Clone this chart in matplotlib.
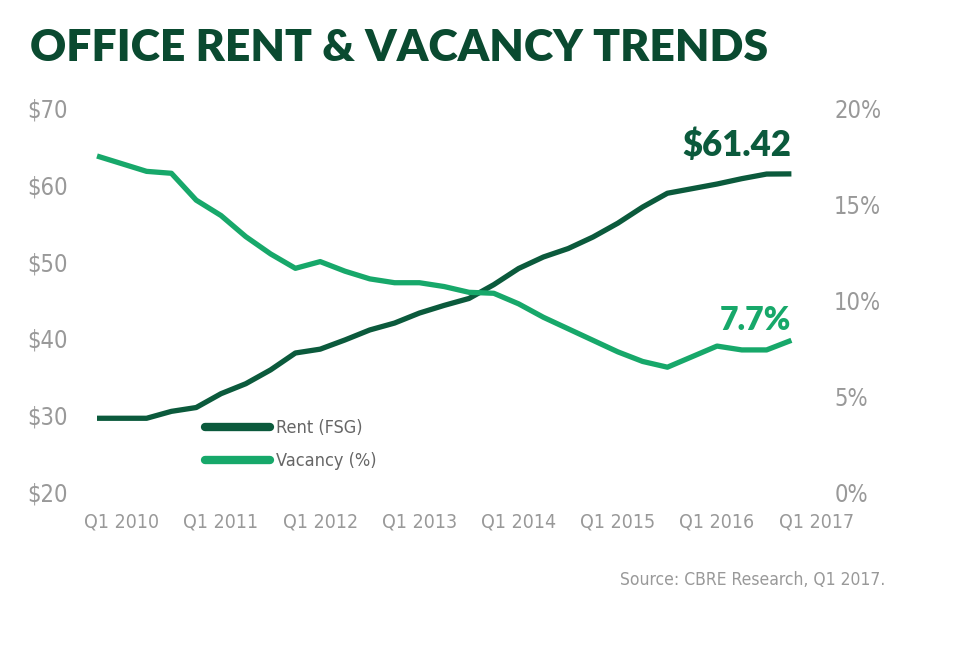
import matplotlib
matplotlib.use('Agg')
import matplotlib.pyplot as plt
from matplotlib.lines import Line2D

# 季度数据 Q1 2010 .. Q1 2017
quarters = list(range(29))
rent = [29.6, 29.6, 29.6, 30.5, 31.0, 32.8, 34.1, 35.9, 38.1, 38.6,
        39.8, 41.1, 42.0, 43.3, 44.3, 45.2, 47.0, 49.1, 50.6, 51.7,
        53.2, 55.0, 57.1, 58.9, 59.5, 60.1, 60.8, 61.4, 61.42]
vacancy = [17.5, 17.1, 16.7, 16.6, 15.2, 14.4, 13.3, 12.4, 11.65, 12.0,
           11.5, 11.1, 10.9, 10.9, 10.7, 10.4, 10.35, 9.8, 9.1, 8.5,
           7.9, 7.3, 6.8, 6.5, 7.05, 7.6, 7.4, 7.4, 7.9]
tick_pos = [1, 5, 9, 13, 17, 21, 25, 29]
tick_labels = ['Q1 2010', 'Q1 2011', 'Q1 2012', 'Q1 2013', 'Q1 2014',
               'Q1 2015', 'Q1 2016', 'Q1 2017']
rent_ticks = [20, 30, 40, 50, 60, 70]
vac_ticks = [0, 5, 10, 15, 20]

dark = '#0b5a3c'
light = '#17a86a'
title_c = '#0a4a30'
grey = '#999999'

plt.rcParams['font.family'] = ['DejaVu Sans']
plt.rcParams['font.stretch'] = 'condensed'

fig = plt.figure(figsize=(9.6, 6.55), dpi=100)
ax = fig.add_axes([84.6 / 960, 1 - 492 / 655, 744 / 960, 384 / 655])
ax2 = ax.twinx()

ax.plot(quarters, rent, color=dark, lw=3.8, solid_capstyle='butt', solid_joinstyle='round')
ax2.plot(quarters, vacancy, color=light, lw=3.8, solid_capstyle='butt', solid_joinstyle='round')

ax.set_xlim(-0.5, 29.5)
ax.set_ylim(20, 70)
ax2.set_ylim(0, 20)
ax.set_xticks(tick_pos)
ax.set_xticklabels(tick_labels)
ax.set_yticks(rent_ticks)
ax.set_yticklabels(['$%d' % v for v in rent_ticks])
ax2.set_yticks(vac_ticks)
ax2.set_yticklabels(['%d%%' % v for v in vac_ticks])

for a in (ax, ax2):
    for s in a.spines.values():
        s.set_visible(False)
    a.tick_params(length=0, colors=grey, labelsize=14)
ax.tick_params(axis='y', pad=12, labelsize=17)
ax2.tick_params(axis='y', pad=4, labelsize=17)
ax.tick_params(axis='x', pad=15)

ax.text(28, rent[-1] + 1.6, '$%.2f' % rent[-1], ha='right', va='bottom',
        color=dark, fontsize=25, fontweight='heavy', family=['Lato', 'DejaVu Sans'],
        fontstretch='normal')
ax2.text(28, vacancy[-1] + 0.3, '7.7%', ha='right', va='bottom',
         color=light, fontsize=23, fontweight='heavy', family=['Lato', 'DejaVu Sans'],
         fontstretch='normal')

handles = [Line2D([], [], color=dark, lw=6, solid_capstyle='round'),
           Line2D([], [], color=light, lw=6, solid_capstyle='round')]
leg = ax.legend(handles, ['Rent (FSG)', 'Vacancy (%)'], loc='upper left',
                bbox_to_anchor=(0.162, 0.19), frameon=False, fontsize=13,
                handlelength=3.6, handletextpad=0.3, labelspacing=0.85,
                borderpad=0, borderaxespad=0)
for t in leg.get_texts():
    t.set_color('#666666')

fig.text(30 / 960, 1 - 48 / 655, 'OFFICE RENT & VACANCY TRENDS', ha='left', va='center',
         color=title_c, fontsize=32, fontweight='heavy', family=['Lato', 'DejaVu Sans'],
         fontstretch='normal')
fig.text(885 / 960, 1 - 580 / 655, 'Source: CBRE Research, Q1 2017.', ha='right', va='center',
         color=grey, fontsize=12.5)

fig.savefig('out.png', dpi=100, facecolor='white')
